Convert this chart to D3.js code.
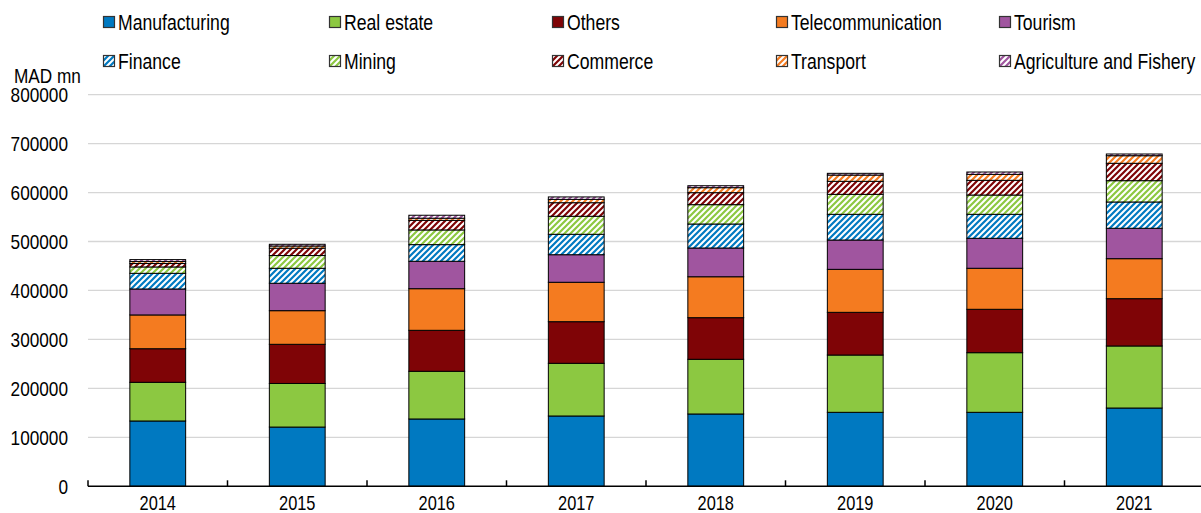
<!DOCTYPE html>
<html>
<head>
<meta charset="utf-8">
<script src="https://cdn.jsdelivr.net/npm/d3@7"></script>
<style>
  body { margin: 0; background: white; }
  svg text { font-family: "Liberation Sans", Arial, sans-serif; fill: #000; }
</style>
</head>
<body>
<svg id="chart" width="1201" height="513"></svg>
<script>
// values in MAD mn
const years = ["2014", "2015", "2016", "2017", "2018", "2019", "2020", "2021"];
const manufacturing = [133400, 121000, 137500, 143600, 147700, 151100, 151100, 159900];
const realEstate = [79000, 89000, 97400, 107600, 111700, 117000, 121800, 126700];
const others = [68600, 80000, 83700, 85000, 85000, 87200, 88600, 96600];
const telecom = [69000, 68700, 85000, 80500, 83600, 87800, 83800, 81700];
const tourism = [53000, 56000, 56000, 56300, 58700, 59900, 61200, 62100];
const finance = [32000, 30600, 34000, 41700, 49000, 52500, 49000, 53700];
const mining = [13000, 26000, 30000, 36800, 39500, 40800, 39400, 43500];
const commerce = [7000, 15000, 19500, 27700, 24500, 26600, 30000, 35500];
const transport = [4000, 4500, 4500, 6800, 10200, 12800, 12200, 15500];
const agriculture = [4000, 3500, 6000, 5000, 4000, 3500, 4800, 3500];
const yTicks = [0, 100000, 200000, 300000, 400000, 500000, 600000, 700000, 800000];

const series = [
  { key: "Manufacturing", values: manufacturing, color: "#0079c1", hatch: false },
  { key: "Real estate", values: realEstate, color: "#8cc841", hatch: false },
  { key: "Others", values: others, color: "#7f0406", hatch: false },
  { key: "Telecommunication", values: telecom, color: "#f47b20", hatch: false },
  { key: "Tourism", values: tourism, color: "#a0559f", hatch: false },
  { key: "Finance", values: finance, color: "#0079c1", hatch: true },
  { key: "Mining", values: mining, color: "#8cc841", hatch: true },
  { key: "Commerce", values: commerce, color: "#7f0406", hatch: true },
  { key: "Transport", values: transport, color: "#f47b20", hatch: true },
  { key: "Agriculture and Fishery", values: agriculture, color: "#a0559f", hatch: true },
];

const rows = years.map((y, i) => {
  const r = { year: y };
  series.forEach((s) => (r[s.key] = s.values[i]));
  return r;
});
const stacked = d3.stack().keys(series.map((s) => s.key))(rows);

const svg = d3.select("#chart");
const defs = svg.append("defs");

// narrow text: the original uses an Arial Narrow like face
const NARROW = 0.82;
function narrowText(sel, size, anchor) {
  return sel
    .attr("transform", (d) => `translate(${d.tx}, ${d.ty}) scale(${NARROW}, 1)`)
    .attr("font-size", size + "px")
    .attr("text-anchor", anchor || "start");
}

series.forEach((s, i) => {
  if (!s.hatch) return;
  const p = defs
    .append("pattern")
    .attr("id", `hatch-${i}`)
    .attr("patternUnits", "userSpaceOnUse")
    .attr("width", 6)
    .attr("height", 6);
  p.append("rect").attr("width", 6).attr("height", 6).attr("fill", "white");
  p.append("path")
    .attr("d", "M-1.5,1.5 L1.5,-1.5 M0,6 L6,0 M4.5,7.5 L7.5,4.5")
    .attr("stroke", s.color)
    .attr("stroke-width", 2.2);
});
const fillOf = (i) => (series[i].hatch ? `url(#hatch-${i})` : series[i].color);

const x = d3.scaleBand().domain(years).range([88, 1204]).paddingInner(0.6).paddingOuter(0.3);
const y = d3.scaleLinear().domain([0, 800000]).range([486.3, 94.6]);

// gridlines
svg
  .append("g")
  .selectAll("line")
  .data(yTicks.slice(1))
  .enter()
  .append("line")
  .attr("x1", 88)
  .attr("x2", 1201)
  .attr("y1", (d) => y(d))
  .attr("y2", (d) => y(d))
  .attr("stroke", "#d6d6d6")
  .attr("stroke-width", 1.3);

// bars
svg
  .append("g")
  .selectAll("g")
  .data(stacked)
  .enter()
  .append("g")
  .attr("fill", (d, i) => fillOf(i))
  .selectAll("rect")
  .data((d) => d)
  .enter()
  .append("rect")
  .attr("x", (d) => x(d.data.year))
  .attr("width", x.bandwidth())
  .attr("y", (d) => y(d[1]))
  .attr("height", (d) => y(d[0]) - y(d[1]))
  .attr("stroke", "#000")
  .attr("stroke-width", 1);

// x axis
const step = x.step();
const xAxis = svg.append("g");
xAxis
  .append("line")
  .attr("x1", 88)
  .attr("x2", 1201)
  .attr("y1", y(0))
  .attr("y2", y(0))
  .attr("stroke", "#000")
  .attr("stroke-width", 1.5);
xAxis
  .selectAll(".tick")
  .data(d3.range(years.length))
  .enter()
  .append("line")
  .attr("x1", (i) => 88 + i * step)
  .attr("x2", (i) => 88 + i * step)
  .attr("y1", y(0))
  .attr("y2", y(0) - 6)
  .attr("stroke", "#000")
  .attr("stroke-width", 1.5);
xAxis
  .selectAll("text")
  .data(years.map((d) => ({ label: d, tx: x(d) + x.bandwidth() / 2, ty: 510 })))
  .enter()
  .append("text")
  .call(narrowText, 20, "middle")
  .text((d) => d.label);

// y axis labels
svg
  .append("g")
  .selectAll("text")
  .data(yTicks.map((d) => ({ label: d, tx: 68, ty: y(d) + 7.5 })))
  .enter()
  .append("text")
  .call(narrowText, 21, "end")
  .text((d) => d.label);

svg
  .append("text")
  .datum({ tx: 14, ty: 83 })
  .call(narrowText, 21)
  .text("MAD mn");

// legend
const legendCols = [103, 329, 552, 776, 999];
const legendRows = [22, 61];
const legend = svg
  .append("g")
  .selectAll("g")
  .data(series)
  .enter()
  .append("g")
  .attr("transform", (d, i) => `translate(${legendCols[i % 5]}, ${legendRows[Math.floor(i / 5)]})`);
legend
  .append("rect")
  .attr("x", 0.5)
  .attr("y", -5.5)
  .attr("width", 11)
  .attr("height", 11)
  .attr("fill", (d, i) => fillOf(i))
  .attr("stroke", "#333")
  .attr("stroke-width", 1.2);
legend
  .append("text")
  .datum((d) => ({ label: d.key, tx: 15, ty: 7.8 }))
  .call(narrowText, 21.5)
  .text((d) => d.label);
</script>
</body>
</html>
